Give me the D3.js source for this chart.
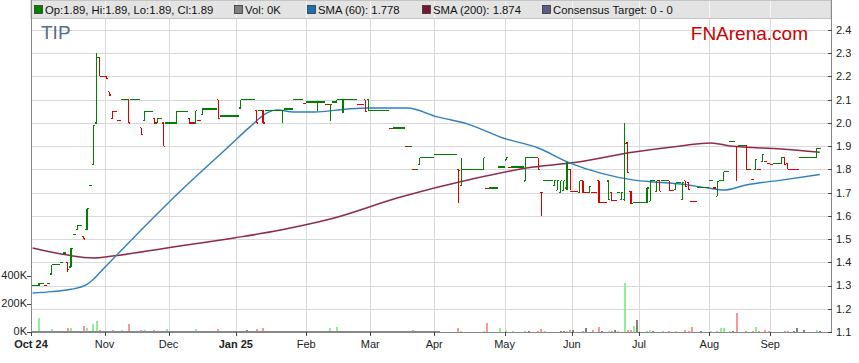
<!DOCTYPE html>
<html lang="en">
<head>
<meta charset="UTF-8">
<title>TIP price chart</title>
<script src="https://d3js.org/d3.v7.min.js"></script>
<style>
  body { margin: 0; background: #fff; font-family: Arial, "Liberation Sans", sans-serif; }
  svg { display: block; }
</style>
</head>
<body>
<div id="chart"></div>
<script>
// trading-day index, open, high, low, close  (2-item rows: flat day at that price)
const ohlc = [
  [0,1.30],[1,1.30],[2,1.30,1.31,1.30,1.31],[3,1.31],[4,1.30],[5,1.31],
  [6,1.35,1.39,1.35,1.39],[7,1.39],[8,1.39],[9,1.40],[10,1.44],
  [11,1.40,1.40,1.36,1.37],[12,1.38,1.46,1.38,1.46],[13,1.52],[14,1.54,1.56,1.54,1.56],[15,1.56],
  [16,1.51,1.51,1.50,1.50],[17,1.54,1.63,1.54,1.63],[18,1.73],[19,1.82,1.99,1.82,1.99],
  [20,2.00,2.30,2.00,2.28],[21,2.28,2.28,2.20,2.20],[22,2.20],[23,2.20,2.20,2.19,2.19],[24,2.135,2.135,2.12,2.12],
  [25,2.02,2.05,2.02,2.05],[26,2.05],[27,2.01],[28,2.10],[29,2.10],[30,2.10,2.10,2.00,2.00],[31,2.10],[32,2.10],[33,2.10],
  [34,1.98,1.98,1.95,1.95],[35,2.01,2.05,2.01,2.05],[36,2.05],[37,2.05],[38,2.02,2.02,2.00,2.00],
  [39,2.00,2.02,2.00,2.02],[40,2.02],[41,2.00,2.00,1.90,1.90],[42,2.00],[43,2.00],[44,2.00],
  [45,2.00,2.05,2.00,2.05],[46,2.05],[47,2.05],[48,2.05],[49,2.02,2.02,2.00,2.00],[50,2.00],
  [51,2.00,2.053,2.00,2.053],[52,2.01],[53,2.036,2.06,2.036,2.06],[54,2.06],[55,2.06],[56,2.06],[57,2.06],
  [58,2.10,2.10,2.02,2.02],[59,2.03],[60,2.03],[61,2.03],[62,2.03],[63,2.03],[64,2.03],
  [65,2.064,2.10,2.064,2.10],[66,2.10],[67,2.10],[68,2.10],[69,2.10],[70,2.054,2.054,2.00,2.00],[71,2.054],
  [72,2.054,2.054,2.00,2.00],[73,2.054],[74,2.054],[75,2.054],[76,2.054],[77,2.054],[78,2.054,2.054,2.00,2.054],
  [79,2.06],[80,2.06],[81,2.06],[82,2.10],[83,2.10],[84,2.10],[85,2.085],[86,2.09],[87,2.09],[88,2.09],
  [89,2.09,2.09,2.053,2.09],[90,2.09],[91,2.09],[92,2.078],[93,2.08,2.08,2.007,2.08],[94,2.09],
  [95,2.09,2.10,2.09,2.10],[96,2.10],[97,2.10,2.10,2.043,2.10],[98,2.10],[99,2.10],[100,2.10],[101,2.10],
  [102,2.08],[103,2.08],[104,2.10,2.10,2.053,2.05],[105,2.10,2.10,2.053,2.053],[106,2.053],[107,2.053],
  [108,2.053],[109,2.053],[110,2.053],[111,2.053],[112,1.975],[113,1.978],[114,1.978],[115,1.978],[116,1.978],
  [117,1.898],[118,1.90],[119,1.798],[120,1.80],[121,1.82,1.85,1.82,1.85],[122,1.85],[123,1.85],[124,1.85],[125,1.85],
  [126,1.864],[127,1.864],[128,1.864],[129,1.864],[130,1.864],[131,1.864],[132,1.864],
  [133,1.80,1.80,1.656,1.795],[134,1.73,1.85,1.73,1.80],[135,1.80],[136,1.80],[137,1.80],[138,1.80],[139,1.80],[140,1.80],
  [141,1.80,1.85,1.80,1.85],[142,1.718],[143,1.72],[144,1.72],[145,1.72],[146,1.81],[147,1.81],
  [148,1.84,1.85,1.84,1.85],[149,1.808],[150,1.81],[151,1.81],[152,1.81],[153,1.81],
  [154,1.75,1.85,1.75,1.85],[155,1.85],[156,1.85],[157,1.85],[158,1.85,1.85,1.80,1.80],[159,1.70,1.70,1.60,1.70],
  [160,1.752],[161,1.752],[162,1.752],[163,1.73,1.752,1.73,1.752],[164,1.71,1.752,1.71,1.752],
  [165,1.70,1.752,1.70,1.752],[166,1.71,1.752,1.71,1.752],[167,1.72,1.83,1.71,1.80],[168,1.80,1.80,1.71,1.706],
  [169,1.706],[170,1.706],[171,1.70,1.752,1.70,1.752],[172,1.752,1.752,1.70,1.70],[173,1.70],
  [174,1.70,1.725,1.70,1.725],[175,1.70],[176,1.70],[177,1.752,1.752,1.656,1.656],[178,1.656],[179,1.656],
  [180,1.75,1.75,1.67,1.67],[181,1.70,1.70,1.665,1.665],[182,1.665],[183,1.70],[184,1.67,1.70,1.67,1.70],
  [185,1.67,2.00,1.663,1.91],[186,1.914,1.914,1.785,1.785],[187,1.706,1.706,1.653,1.653],
  [188,1.656],[189,1.656],[190,1.656],[191,1.656],[192,1.656,1.72,1.656,1.72],[193,1.663,1.752,1.663,1.752],
  [194,1.752],[195,1.706,1.752,1.706,1.752],[196,1.752,1.752,1.706,1.706],[197,1.752],[198,1.752],
  [199,1.752,1.752,1.706,1.709],[200,1.709],[201,1.713,1.742,1.713,1.742],[202,1.742],[203,1.67,1.742,1.67,1.742],
  [204,1.752,1.752,1.728,1.728],[205,1.742,1.742,1.713,1.713],[206,1.663],[207,1.663],
  [208,1.721],[209,1.721],[210,1.721],[211,1.721],[212,1.752],[213,1.72],[214,1.685,1.749,1.685,1.749],
  [215,1.752],[216,1.752,1.79,1.752,1.79],[217,1.79],[218,1.92],[219,1.92],[220,1.90,1.90,1.749,1.898],
  [221,1.903],[222,1.903],[223,1.903,1.903,1.80,1.80],[224,1.80],[225,1.757],[226,1.80,1.843,1.80,1.843],
  [227,1.80],[228,1.833,1.864,1.833,1.864],[229,1.833],[230,1.826],[231,1.821],[232,1.824],[233,1.824],
  [234,1.824,1.85,1.824,1.85],[235,1.85,1.85,1.82,1.82],[236,1.826,1.826,1.80,1.80],[237,1.80],[238,1.80],[239,1.80],
  [240,1.85],[241,1.85],[242,1.85],[243,1.85],[244,1.85],[245,1.85,1.893,1.85,1.89],[246,1.89]
];

// trading-day index, volume in thousands
const volume = [
  [1,10],[2,100],[5,10],[6,24],[7,10],[8,10],[10,10],[11,29],[12,29],[16,43],[17,29],[19,57],[20,79],[21,14],
  [24,7],[25,14],[28,14],[30,57],[31,7],[34,14],[35,14],[38,14],[39,10],[41,10],[42,21],[45,7],[49,7],[51,21],
  [52,10],[53,7],[57,7],[58,21],[65,7],[67,14],[70,21],[72,29],[74,7],[78,7],[88,7],[93,29],[95,36],[99,7],
  [104,7],[119,14],[120,7],[121,7],[122,7],[133,29],[134,7],[141,7],[142,67],[146,29],[148,14],[150,7],[154,7],
  [155,7],[158,7],[159,21],[160,7],[165,7],[166,7],[167,7],[168,14],[169,14],[172,7],[173,29],[175,14],[177,36],
  [178,7],[180,7],[181,7],[182,14],[183,7],[185,353],[186,14],[187,14],[188,43],[189,86],[192,7],[193,14],[194,7],
  [197,7],[199,7],[201,7],[204,14],[205,7],[206,36],[209,7],[212,7],[214,7],[215,29],[216,29],[218,7],[219,7],
  [220,136],[223,7],[225,7],[226,36],[227,7],[229,14],[230,7],[235,7],[236,7],[238,7],[239,29],[241,14],[245,14],[246,7]
];

// moving averages: [trading-day index, value]
const sma60 = [
  [0,1.268],[6,1.274],[12,1.284],[17,1.305],[19,1.327],[22,1.37],[47.6,1.725],[60.7,1.891],
  [68,1.984],[73,2.041],[76.5,2.056],[81.5,2.047],[88,2.047],[98.5,2.06],[104.7,2.064],[117,2.064],[126.5,2.026],
  [136,1.995],[147,1.935],[158,1.892],[168,1.827],[177.5,1.784],[188,1.754],[194,1.746],[202.5,1.737],[211,1.72],
  [216,1.711],[223,1.733],[234,1.754],[246,1.778]
];
const sma200 = [
  [0,1.462],[11,1.431],[19,1.419],[25,1.427],[42,1.462],[63,1.505],[77.5,1.539],[93,1.586],[115,1.681],
  [136,1.754],[156.5,1.81],[168,1.827],[188,1.875],[202.5,1.901],[212,1.914],[218,1.901],[234,1.888],[246,1.874]
];

const monthLabels = ['Oct 24','Nov','Dec','Jan 25','Feb','Mar','Apr','May','Jun','Jul','Aug','Sep'];
const monthDays = [0,23,43,64,86,106,126,148,169,190,212,231];
const priceTicks = [1.1,1.2,1.3,1.4,1.5,1.6,1.7,1.8,1.9,2.0,2.1,2.2,2.3,2.4];
const volTicks = [0,200,400];
const legendLabels = ['Op:1.89, Hi:1.89, Lo:1.89, Cl:1.89','Vol: 0K','SMA (60): 1.778','SMA (200): 1.874','Consensus Target: 0 - 0'];

const W = 859, H = 363;
const plotL = 31, plotR = 831, plotT = 0, plotB = 332;
const UP = '#008000', DOWN = '#dd0000';

const svg = d3.select('#chart').append('svg').attr('width', W).attr('height', H);
svg.append('rect').attr('width', W).attr('height', H).attr('fill', '#fff');

const x = d3.scaleLinear().domain([-0.5, 249.5]).range([plotL, plotR]);
const y = d3.scaleLinear().domain([1.1, 2.4]).range([plotB, 30]);
const yv = d3.scaleLinear().domain([0, 1000]).range([plotB, plotB - 140]);

// bars with up/down colouring (close vs previous close)
const bars = ohlc.map(r => r.length === 2
  ? { d: r[0], o: r[1], h: r[1], l: r[1], c: r[1] }
  : { d: r[0], o: r[1], h: r[2], l: r[3], c: r[4] });
let prevC = null, prevUp = true;
bars.forEach(b => {
  if (prevC === null || b.c > prevC) b.up = true;
  else if (b.c < prevC) b.up = false;
  else b.up = prevUp;
  b.chg = prevC === null ? 0 : Math.sign(Math.round((b.c - prevC) * 1000));
  prevC = b.c; prevUp = b.up;
});
const byDay = new Map(bars.map(b => [b.d, b]));

// grid
const grid = svg.append('g').attr('shape-rendering', 'crispEdges');
grid.selectAll('line.h').data(priceTicks).join('line')
  .attr('x1', plotL).attr('x2', plotR)
  .attr('y1', d => Math.round(y(d)) + 0.5).attr('y2', d => Math.round(y(d)) + 0.5)
  .attr('stroke', '#d9d9d9');
grid.selectAll('line.v').data(monthDays).join('line')
  .attr('x1', d => Math.round(x(d - 0.5)) + 0.5).attr('x2', d => Math.round(x(d - 0.5)) + 0.5)
  .attr('y1', plotT).attr('y2', plotB)
  .attr('stroke', '#d9d9d9');

// volume
svg.append('g').attr('shape-rendering', 'crispEdges')
  .selectAll('rect').data(volume).join('rect')
  .attr('x', d => Math.round(x(d[0]) - 1))
  .attr('width', 2)
  .attr('y', d => yv(d[1]))
  .attr('height', d => plotB - yv(d[1]))
  .attr('fill', d => {
    const b = byDay.get(d[0]);
    const c = b ? b.chg : 0;
    return c > 0 ? '#94ee94' : c < 0 ? '#ff9494' : '#808080';
  });

// moving averages
const line = d3.line().x(d => x(d[0])).y(d => y(d[1])).curve(d3.curveMonotoneX);
svg.append('path').attr('d', line(sma200)).attr('fill', 'none')
  .attr('stroke', '#8e2a4c').attr('stroke-width', 1.5);
svg.append('path').attr('d', line(sma60)).attr('fill', 'none')
  .attr('stroke', '#2f7fc1').attr('stroke-width', 1.4);

// HLOC bars
const half = (x(1) - x(0)) / 2;
svg.append('g').attr('shape-rendering', 'crispEdges')
  .selectAll('path').data(bars).join('path')
  .attr('fill', 'none')
  .attr('stroke', d => d.up ? UP : DOWN)
  .attr('stroke-width', 1.2)
  .attr('d', d => {
    const cx = x(d.d);
    let p = `M${cx - half},${y(d.o)}H${cx}M${cx},${y(d.c)}H${cx + half}`;
    if (d.h !== d.l) p += `M${cx},${y(d.h)}V${y(d.l)}`;
    return p;
  });

// legend header band
svg.append('rect').attr('x', plotL).attr('y', 0.5).attr('width', plotR - plotL).attr('height', 18)
  .attr('fill', '#e3e3e3').attr('stroke', '#c4c4c4').attr('stroke-width', 1);
svg.append('g').attr('shape-rendering', 'crispEdges')
  .selectAll('line').data(monthDays.slice(1)).join('line')
  .attr('x1', d => Math.round(x(d - 0.5)) + 0.5).attr('x2', d => Math.round(x(d - 0.5)) + 0.5)
  .attr('y1', 1).attr('y2', 18).attr('stroke', '#f6f6f6');

const legendX = [45, 245, 318, 433, 553];
const legendFill = ['#008000', '#808080', '#1f6fb0', '#7a1631', '#5d5d8a'];
const lg = svg.append('g').selectAll('g').data(legendLabels).join('g')
  .attr('transform', (d, i) => `translate(${legendX[i]},0)`);
lg.append('rect').attr('x', -10.5).attr('y', 5.5).attr('width', 8).attr('height', 8)
  .attr('fill', (d, i) => legendFill[i]).attr('stroke', '#333').attr('stroke-width', 0.8);
lg.append('text').attr('x', 0).attr('y', 13.5)
  .attr('font-size', 11.3).attr('fill', '#111').text(d => d);

// axes lines
svg.append('g').attr('shape-rendering', 'crispEdges').selectAll('line')
  .data([[plotL, 0, plotL, plotB], [plotR, 0, plotR, plotB], [plotL, plotB, plotR, plotB]])
  .join('line')
  .attr('x1', d => d[0] + 0.5).attr('y1', d => d[1]).attr('x2', d => d[2] + 0.5).attr('y2', d => d[3] + 0.5)
  .attr('stroke', '#888').attr('stroke-width', 1.5);

// right price axis
const ra = svg.append('g');
ra.selectAll('line').data(priceTicks).join('line')
  .attr('x1', plotR - 3).attr('x2', plotR + 1)
  .attr('y1', d => Math.round(y(d)) + 0.5).attr('y2', d => Math.round(y(d)) + 0.5)
  .attr('stroke', '#444').attr('shape-rendering', 'crispEdges');
ra.selectAll('text').data(priceTicks).join('text')
  .attr('x', plotR + 5).attr('y', d => y(d)).attr('dy', '0.36em')
  .attr('font-size', 11).attr('fill', '#222')
  .text(d => d.toFixed(1));

// left volume axis
const la = svg.append('g');
la.selectAll('line').data(volTicks).join('line')
  .attr('x1', plotL - 4).attr('x2', plotL)
  .attr('y1', d => Math.round(yv(d)) + 0.5).attr('y2', d => Math.round(yv(d)) + 0.5)
  .attr('stroke', '#444').attr('shape-rendering', 'crispEdges');
la.selectAll('text').data(volTicks).join('text')
  .attr('x', plotL - 4).attr('y', d => yv(d)).attr('dy', '0.28em')
  .attr('text-anchor', 'end').attr('font-size', 11).attr('fill', '#222')
  .text(d => d + 'K');

// month axis
const ma = svg.append('g');
ma.selectAll('line').data(monthDays).join('line')
  .attr('x1', d => Math.round(x(d - 0.5)) + 0.5).attr('x2', d => Math.round(x(d - 0.5)) + 0.5)
  .attr('y1', plotB).attr('y2', plotB + 4)
  .attr('stroke', '#444').attr('shape-rendering', 'crispEdges');
ma.selectAll('text').data(monthDays).join('text')
  .attr('x', d => x(d - 0.5)).attr('y', plotB + 15.5)
  .attr('text-anchor', 'middle').attr('font-size', 11).attr('fill', '#222')
  .attr('font-weight', (d, i) => monthLabels[i].includes(' ') ? 'bold' : 'normal')
  .text((d, i) => monthLabels[i]);

// titles
svg.append('text').attr('x', 41).attr('y', 39).attr('font-size', 19)
  .attr('fill', '#566b8c').text('TIP');
svg.append('text').attr('x', 808).attr('y', 40).attr('font-size', 19)
  .attr('text-anchor', 'end').attr('fill', '#cc0000').text('FNArena.com');
</script>
</body>
</html>
